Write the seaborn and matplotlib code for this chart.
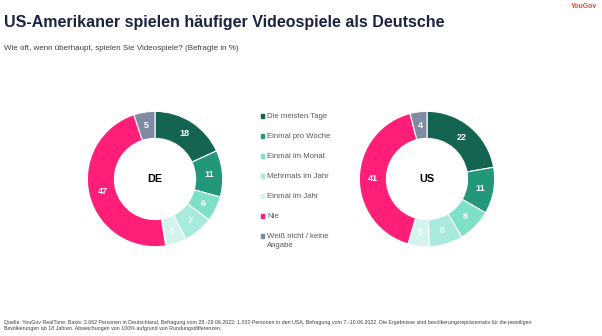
import math
import matplotlib
matplotlib.use("Agg")
import matplotlib.pyplot as plt
import matplotlib.patches as mpatches
import seaborn as sns

categories = ["Die meisten Tage", "Einmal pro Woche", "Einmal im Monat",
              "Mehrmals im Jahr", "Einmal im Jahr", "Nie", "Weiß nicht / keine\nAngabe"]
de_values = [18, 11, 6, 7, 5, 47, 5]
us_values = [22, 11, 8, 8, 5, 41, 4]
colors = ["#146452", "#23977a", "#7fe0c8", "#a8eadb", "#d3f4ec", "#ff1f78", "#7f8aa3"]

sns.set_theme(style="white")
plt.rcParams['font.family'] = ['Liberation Sans', 'DejaVu Sans']

W, H = 602, 336
fig = plt.figure(figsize=(W / 100, H / 100), dpi=100)
fig.patch.set_facecolor("white")

def px_axes(cx, cy, r):
    return fig.add_axes([(cx - r) / W, (H - cy - r) / H, 2 * r / W, 2 * r / H])

def donut(ax, values, label):
    ax.pie(values, colors=colors, startangle=90, counterclock=False,
           radius=1.0, wedgeprops=dict(width=0.4, edgecolor="white", linewidth=0.8))
    total = sum(values)
    ang = 90.0
    for v in values:
        span = 360.0 * v / total
        mid = math.radians(ang - span / 2)
        ang -= span
        ax.text(0.8 * math.cos(mid), 0.8 * math.sin(mid), str(v), ha="center", va="center",
                color="white", fontsize=6.5, fontweight="bold")
    ax.text(0, 0, label, ha="center", va="center", color="black", fontsize=7.8, fontweight="bold")
    ax.set_xlim(-1.02, 1.02)
    ax.set_ylim(-1.02, 1.02)
    ax.set_aspect("equal")
    ax.axis("off")

donut(px_axes(155, 179, 69), de_values, "DE")
donut(px_axes(427, 179, 69), us_values, "US")

# Legend
ys = [116, 136, 156, 176, 196, 216, 236]
for y, c, t in zip(ys, colors, categories):
    fig.patches.append(mpatches.Rectangle((260.5 / W, (H - y - 1.7) / H), 3.4 / W, 3.4 / H,
                                          transform=fig.transFigure, color=c, figure=fig))
    lines = t.split("\n")
    for i, ln in enumerate(lines):
        fig.text(267 / W, (H - y - 9.5 * i) / H, ln, ha="left", va="center",
                 fontsize=5.6, color="#595959")

# Titles
fig.text(4 / W, (H - 23) / H, "US-Amerikaner spielen häufiger Videospiele als Deutsche",
         ha="left", va="center", fontsize=11.5, fontweight="bold", color="#1a2340")
fig.text(4 / W, (H - 48) / H, "Wie oft, wenn überhaupt, spielen Sie Videospiele? (Befragte in %)",
         ha="left", va="center", fontsize=5.8, color="#404040")
fig.text(597 / W, (H - 6) / H, "YouGov", ha="right", va="center", fontsize=5,
         fontweight="bold", color="#ff412c")

footer = ("Quelle: YouGov RealTime. Basis: 2.062 Personen in Deutschland, Befragung vom 28.-29.06.2022; "
          "1.000 Personen in den USA, Befragung vom 7.-10.06.2022. Die Ergebnisse sind bevölkerungsrepräsentativ "
          "für die jeweiligen\nBevölkerungen ab 18 Jahren. Abweichungen von 100% aufgrund von Rundungsdifferenzen.")
fig.text(4 / W, (H - 320) / H, footer, ha="left", va="top", fontsize=3.8, color="#404040", linespacing=1.3)

fig.savefig("out.png", dpi=100, facecolor="white")
